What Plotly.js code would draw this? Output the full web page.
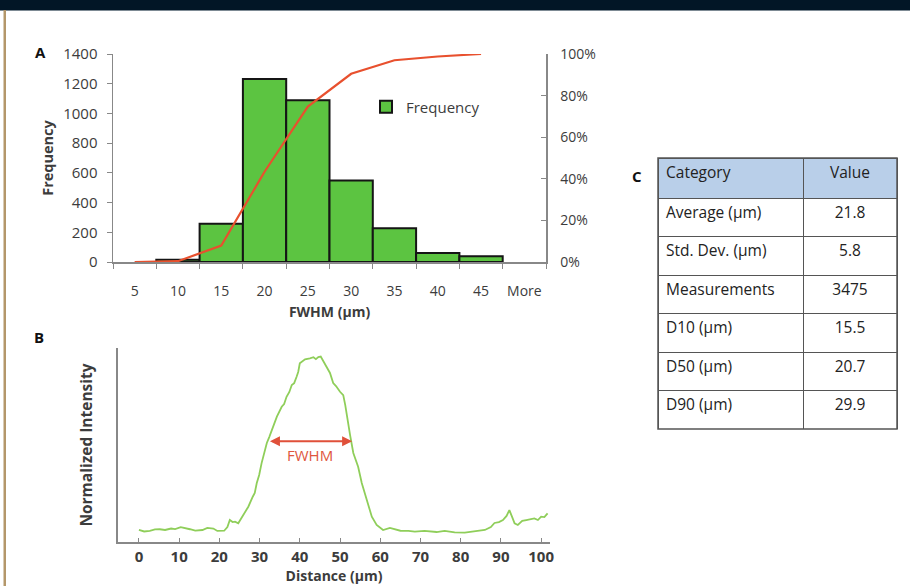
<!DOCTYPE html>
<html>
<head>
<meta charset="utf-8">
<script src="https://cdn.plot.ly/plotly-3.0.1.min.js"></script>
<style>html,body{margin:0;padding:0;background:#fff}#chart{width:910px;height:586px}</style>
</head>
<body>
<div id="chart"></div>
<script>
// Panel A: histogram
const binLabels = ['5','10','15','20','25','30','35','40','45','More'];
const frequency = [0, 15, 258, 1232, 1088, 548, 228, 60, 38, 0];
const cumLabels = ['5','10','15','20','25','30','35','40','45'];
const cumulativePct = [0, 0.004, 0.079, 0.434, 0.747, 0.905, 0.970, 0.988, 1.0];

// Panel B: intensity profile
const distance = [0,1.3,2.7,4,5.2,6.5,8,9,10.4,11.5,12.7,14,15.8,17,18.5,19.5,21.2,22,22.6,23.3,23.9,24.7,25.3,25.9,26.5,27.2,28.3,28.8,29.3,29.9,30.5,31.2,31.8,32.4,33,33.7,34.3,35.5,36.1,36.7,37.4,38,38.6,39.2,39.6,40,40.6,41.3,42.5,43.4,44,44.6,45.2,45.9,46.6,47.5,48.3,49,50,50.8,51.3,51.7,52.5,53.3,54.5,55.4,56.6,57.9,59.1,60,60.7,62.4,64,65,67,68.6,71,74,76,78.5,81,83.5,86,87.5,88.4,89.5,90.5,91.4,92.1,92.8,93.4,94.2,95.3,96.3,97.3,98.3,99.2,100,100.8,101.6];
const intensity = [0.065,0.057,0.060,0.068,0.069,0.065,0.073,0.070,0.080,0.073,0.069,0.062,0.065,0.076,0.073,0.060,0.061,0.081,0.119,0.108,0.110,0.101,0.124,0.146,0.168,0.191,0.245,0.265,0.319,0.363,0.427,0.487,0.536,0.568,0.606,0.644,0.678,0.732,0.747,0.786,0.812,0.850,0.860,0.894,0.920,0.967,0.979,0.989,0.994,1.0,0.990,1.001,1.004,0.976,0.952,0.915,0.860,0.844,0.813,0.795,0.741,0.678,0.579,0.482,0.407,0.319,0.227,0.137,0.092,0.076,0.065,0.076,0.065,0.061,0.060,0.056,0.060,0.054,0.060,0.052,0.051,0.056,0.065,0.081,0.103,0.108,0.119,0.141,0.173,0.135,0.101,0.092,0.114,0.119,0.124,0.128,0.119,0.137,0.135,0.155];
const fwhmStart = 32.2, fwhmEnd = 53.0, fwhmLevel = 0.545;

// Panel C: table
const tableCategories = ['Average (µm)','Std. Dev. (µm)','Measurements','D10 (µm)','D50 (µm)','D90 (µm)'];
const tableValues = ['21.8','5.8','3475','15.5','20.7','29.9'];

const W = 910, H = 586;
const px = v => v / W;
const py = v => 1 - v / H;
const FONT = 'Open Sans, Lato, sans-serif';
const TXT = '#3c3c3c';

const traces = [
  {
    type: 'bar', x: binLabels, y: frequency.map(v => v === 0 ? null : v), name: 'Frequency',
    xaxis: 'x', yaxis: 'y',
    marker: {color: '#5cc441', line: {color: '#151515', width: 2}},
    showlegend: true
  },
  {
    type: 'scatter', mode: 'lines', x: cumLabels, y: cumulativePct, name: 'Cumulative %',
    xaxis: 'x', yaxis: 'y2',
    line: {color: '#e8502e', width: 2.2},
    showlegend: false
  },
  {
    type: 'scatter', mode: 'lines', x: distance, y: intensity, name: 'Intensity',
    xaxis: 'x2', yaxis: 'y3',
    line: {color: '#8fce5a', width: 1.8},
    showlegend: false
  },
  {
    type: 'table',
    domain: {x: [px(658), px(897)], y: [py(429), py(158)]},
    columnwidth: [145, 94],
    header: {
      values: ['Category', 'Value'],
      align: ['left', 'center'],
      fill: {color: '#b9cfe9'},
      line: {color: '#555', width: 1},
      font: {family: FONT, size: 15.5, color: '#222'},
      height: 40
    },
    cells: {
      values: [tableCategories, tableValues],
      align: ['left', 'center'],
      fill: {color: '#ffffff'},
      line: {color: '#555', width: 1},
      font: {family: FONT, size: 15.5, color: '#222'},
      height: 38.5
    }
  }
];

const layout = {
  width: W, height: H,
  margin: {l: 0, r: 0, t: 0, b: 0},
  paper_bgcolor: '#ffffff', plot_bgcolor: 'rgba(0,0,0,0)',
  font: {family: FONT, color: TXT, size: 14},
  bargap: 0,
  showlegend: true,
  legend: {
    x: px(366), y: py(107), xanchor: 'left', yanchor: 'middle',
    bgcolor: 'rgba(255,255,255,0.85)', font: {size: 15, color: TXT},
    itemwidth: 30
  },
  xaxis: {
    domain: [px(113), px(546)], anchor: 'y', type: 'category',
    tickson: 'boundaries', ticks: 'outside', ticklen: 5, tickcolor: '#888',
    showline: true, linecolor: '#888', linewidth: 1.5, showgrid: false,
    tickfont: {size: 14, color: TXT}, ticklabelstandoff: 16, tickangle: 0,
    title: {text: 'FWHM (µm)', font: {size: 14, weight: 'bold', color: TXT}, standoff: -17}
  },
  yaxis: {
    domain: [py(262), py(54)], anchor: 'x', range: [0, 1400], dtick: 200,
    ticks: 'outside', ticklen: 5, tickcolor: '#888',
    showline: true, linecolor: '#888', linewidth: 1.5, showgrid: false, zeroline: false,
    tickfont: {size: 15, color: TXT}, ticklabelstandoff: 6,
    title: {text: 'Frequency', font: {size: 14.5, weight: 'bold', color: TXT}, standoff: 6}
  },
  yaxis2: {
    overlaying: 'y', side: 'right', anchor: 'x', range: [0, 1], dtick: 0.2, tickformat: '.0%',
    ticks: 'inside', ticklen: 5, tickcolor: '#888',
    showline: true, linecolor: '#888', linewidth: 1.5, showgrid: false, zeroline: false,
    tickfont: {size: 14, color: TXT}, ticklabelstandoff: 10
  },
  xaxis2: {
    domain: [px(118), px(550)], anchor: 'y3', range: [-5.2, 102.2], tick0: 0, dtick: 10,
    ticks: 'inside', ticklen: 4, tickcolor: '#888',
    showline: true, linecolor: '#888', linewidth: 2, showgrid: false, zeroline: false,
    tickfont: {size: 15, weight: 'bold', color: TXT}, ticklabelstandoff: 0,
    title: {text: 'Distance (µm)', font: {size: 14, weight: 'bold', color: TXT}, standoff: 1}
  },
  yaxis3: {
    domain: [py(542), py(348)], anchor: 'x2', range: [0, 1.05],
    showticklabels: false, ticks: '',
    showline: true, linecolor: '#888', linewidth: 2, showgrid: false, zeroline: false,
    title: {text: 'Normalized Intensity', font: {size: 15.5, weight: 'bold', color: TXT}, standoff: 20}
  },
  annotations: [
    {xref: 'paper', yref: 'paper', x: px(40), y: py(52), xanchor: 'center', yanchor: 'middle', text: '<b>A</b>', showarrow: false, font: {size: 15, color: '#111'}},
    {xref: 'paper', yref: 'paper', x: px(39), y: py(337), xanchor: 'center', yanchor: 'middle', text: '<b>B</b>', showarrow: false, font: {size: 15, color: '#111'}},
    {xref: 'paper', yref: 'paper', x: px(637), y: py(176), xanchor: 'center', yanchor: 'middle', text: '<b>C</b>', showarrow: false, font: {size: 15, color: '#111'}},
    {xref: 'x2', yref: 'y3', axref: 'x2', ayref: 'y3',
     x: fwhmEnd, y: fwhmLevel, ax: fwhmStart, ay: fwhmLevel, text: '',
     showarrow: true, arrowhead: 2, startarrowhead: 2, arrowside: 'end+start',
     arrowcolor: '#e0503a', arrowwidth: 2, arrowsize: 1, standoff: 0, startstandoff: 0},
    {xref: 'x2', yref: 'y3', x: (fwhmStart + fwhmEnd) / 2, y: fwhmLevel - 0.075, text: 'FWHM',
     showarrow: false, font: {size: 15, color: '#e0563e'}}
  ],
  shapes: [
    {type: 'rect', xref: 'paper', yref: 'paper', x0: 0, x1: 1, y0: py(10), y1: 1, fillcolor: '#021626', line: {width: 0}, layer: 'below'},
    {type: 'rect', xref: 'paper', yref: 'paper', x0: 0, x1: 1, y0: py(11), y1: py(10), fillcolor: '#7d8a94', line: {width: 0}, layer: 'below'},
    {type: 'rect', xref: 'paper', yref: 'paper', x0: px(3.5), x1: px(6), y0: 0, y1: py(10), fillcolor: '#b4976a', line: {width: 0}, layer: 'below'},
    {type: 'rect', xref: 'paper', yref: 'paper', x0: px(898), x1: 1, y0: py(440), y1: py(150), fillcolor: '#ffffff', line: {width: 0}, layer: 'above'},
    {type: 'rect', xref: 'paper', yref: 'paper', x0: px(658), x1: px(897), y0: py(429), y1: py(158), fillcolor: 'rgba(0,0,0,0)', line: {color: '#555', width: 1.5}, layer: 'above'}
  ]
};

Plotly.newPlot('chart', traces, layout, {displayModeBar: false, staticPlot: true});
</script>
</body>
</html>
